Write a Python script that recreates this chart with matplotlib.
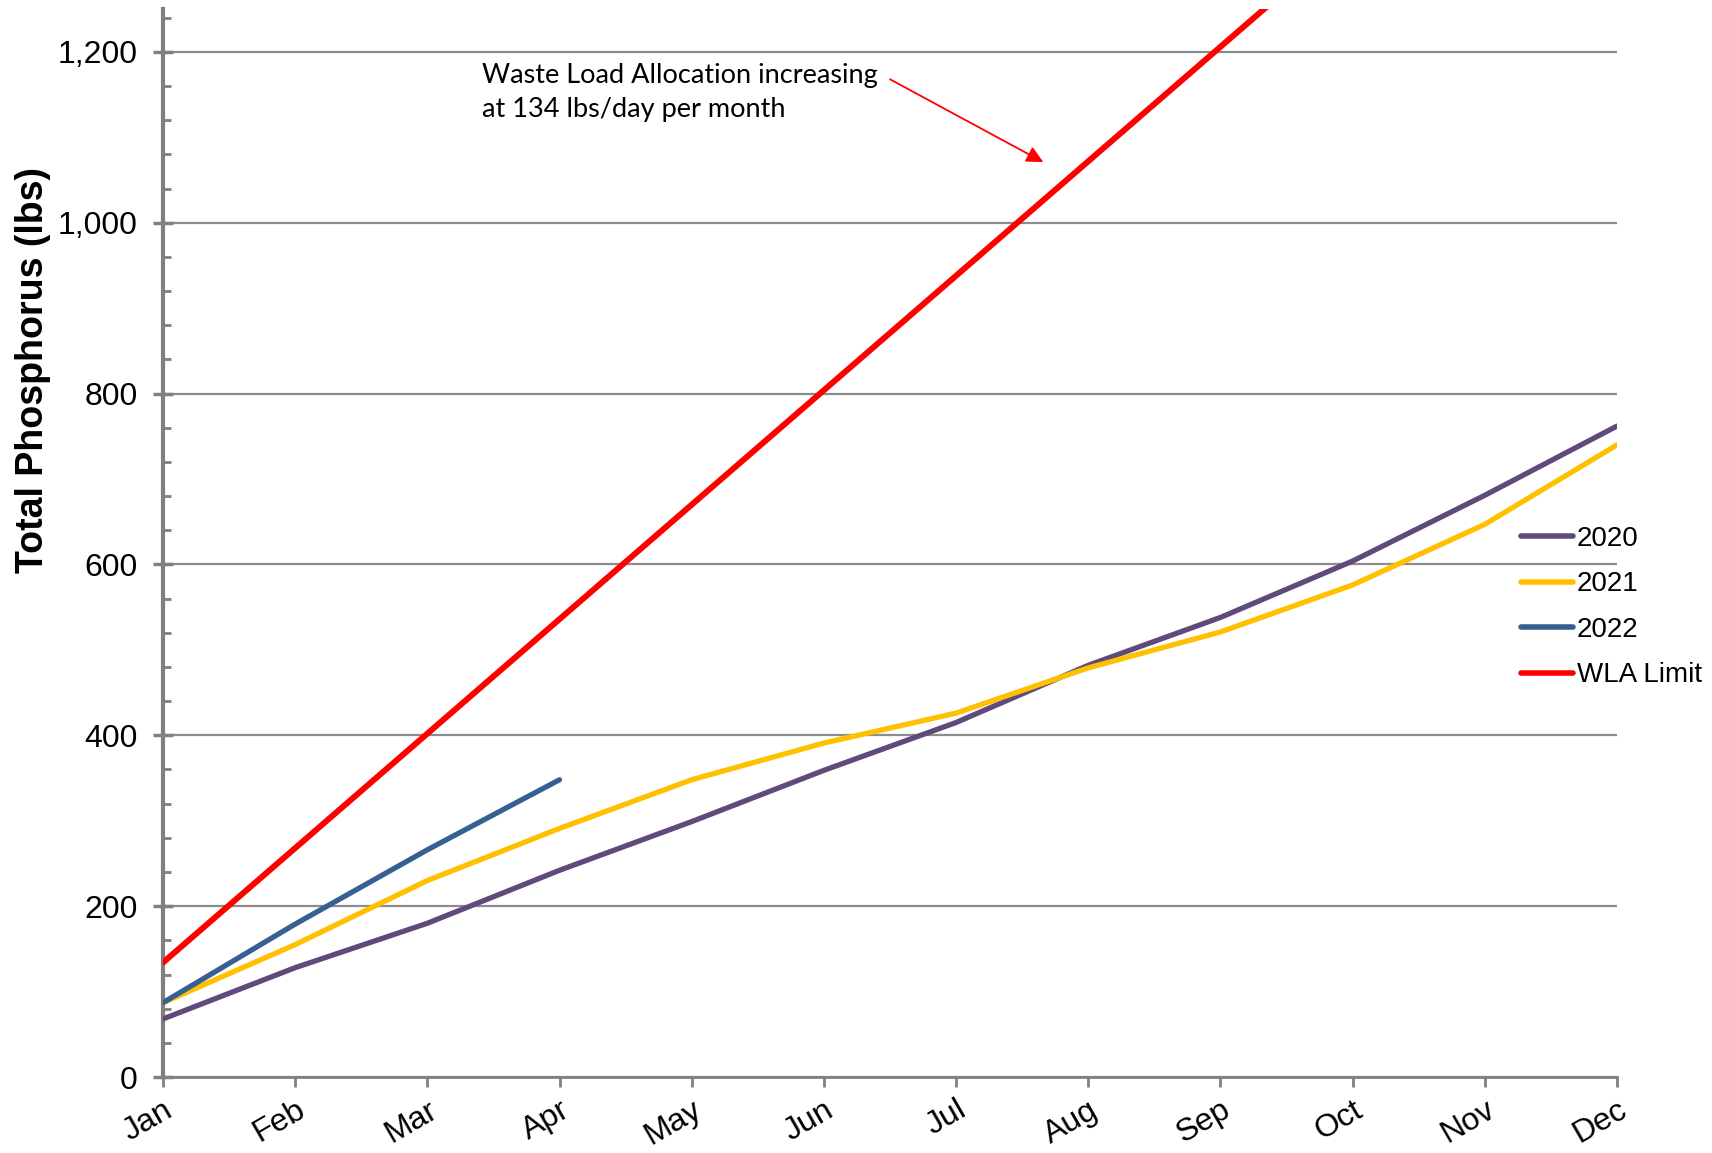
import numpy as np
import matplotlib.pyplot as plt
from matplotlib.ticker import MultipleLocator, FuncFormatter

plt.rcParams['font.family'] = ['Liberation Sans', 'DejaVu Sans']

months = ['Jan', 'Feb', 'Mar', 'Apr', 'May', 'Jun',
          'Jul', 'Aug', 'Sep', 'Oct', 'Nov', 'Dec']

# cumulative total phosphorus (lbs)
tp_2020 = [68, 128, 180, 242, 299, 359, 415, 482, 538, 604, 681, 762]
tp_2021 = [87, 155, 230, 291, 348, 391, 426, 479, 521, 576, 647, 740]
tp_2022 = [87, 179, 266, 348]
wla_limit = [134, 268, 402, 536, 670, 804, 938, 1072, 1206, 1340, 1474, 1608]

series = [
    ('2020', tp_2020, '#604A7B', 3.8),
    ('2021', tp_2021, '#FFC000', 3.8),
    ('2022', tp_2022, '#376092', 3.8),
    ('WLA Limit', wla_limit, '#FF0000', 4.3),
]

fig = plt.figure(figsize=(17.12, 11.53), dpi=100)
ax = fig.add_axes([0.0952, 0.0659, 0.8493, 0.9261])

x = np.arange(len(months))
for label, vals, color, lw in series:
    ax.plot(x[:len(vals)], vals, color=color, linewidth=lw,
            solid_capstyle='round', label=label, zorder=3)

ax.set_xlim(0, 11)
ax.set_ylim(0, 1250)

ax.yaxis.set_major_locator(MultipleLocator(200))
ax.yaxis.set_minor_locator(MultipleLocator(40))
ax.yaxis.set_major_formatter(FuncFormatter(lambda v, p: f'{int(v):,}'))
ax.grid(axis='y', which='major', color='#8C8C8C', linewidth=1.6, zorder=1)

ax.set_xticks(x)
ax.set_xticklabels(months, rotation=30, ha='right', rotation_mode='anchor')

for side in ['top', 'right']:
    ax.spines[side].set_visible(False)
ax.spines['left'].set_color('#808080')
ax.spines['left'].set_linewidth(3)
ax.spines['bottom'].set_color('#808080')
ax.spines['bottom'].set_linewidth(2)

ax.tick_params(axis='y', which='major', direction='inout', length=14,
               width=2.5, color='#808080', labelsize=23, pad=11)
ax.tick_params(axis='y', which='minor', direction='in', length=6,
               width=2, color='#808080')
ax.tick_params(axis='x', direction='out', length=7, width=2,
               color='#808080', labelsize=23, pad=6)

ax.set_ylabel('Total Phosphorus (lbs)', fontsize=27, fontweight='bold')
ax.yaxis.set_label_coords(-0.077, 0.662)

# note on the WLA slope, with its arrow drawn separately
ax.text(2.41, 1152, 'Waste Load Allocation increasing\nat 134 lbs/day per month',
        fontsize=19.5, family=['Lato', 'DejaVu Sans'], linespacing=1.45,
        va='center', ha='left')
ax.annotate('', xy=(6.66, 1071), xytext=(5.50, 1168),
            arrowprops=dict(arrowstyle='-|>', color='#FF0000', lw=1.3,
                            mutation_scale=25, shrinkA=0, shrinkB=0))

leg = ax.legend(loc='center left', bbox_to_anchor=(0.917, 0.44),
                frameon=False, fontsize=20, handlelength=1.85,
                handletextpad=0.15, labelspacing=0.7)
for line in leg.get_lines():
    line.set_linewidth(4)

fig.savefig('out.png', dpi=100)
